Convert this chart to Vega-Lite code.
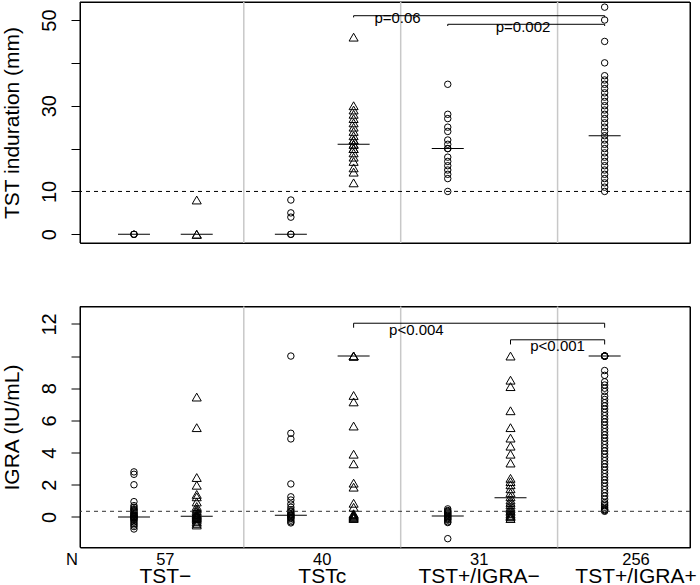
{
  "$schema": "https://vega.github.io/schema/vega-lite/v6.json",
  "padding": {"left": 0, "top": 0, "right": 0, "bottom": 0},
  "background": "white",
  "spacing": 59.5,
  "config": {
    "font": "Liberation Sans",
    "view": {"stroke": "#000", "strokeWidth": 1},
    "axis": {"grid": false, "domain": false, "tickColor": "#000", "tickSize": 9, "labelColor": "#000", "titleColor": "#000", "labelFont": "Liberation Sans", "titleFont": "Liberation Sans", "titleFontWeight": "normal", "labelFontSize": 20, "titleFontSize": 21}
  },
  "datasets": {
    "topO": [
      {"x": 1, "v": 0}, {"x": 1, "v": 0}, {"x": 1, "v": 0},
      {"x": 3.5, "v": 0}, {"x": 3.5, "v": 0}, {"x": 3.5, "v": 4}, {"x": 3.5, "v": 5}, {"x": 3.5, "v": 8},
      {"x": 6, "v": 10}, {"x": 6, "v": 13}, {"x": 6, "v": 14}, {"x": 6, "v": 15}, {"x": 6, "v": 16}, {"x": 6, "v": 17}, {"x": 6, "v": 18}, {"x": 6, "v": 20}, {"x": 6, "v": 20}, {"x": 6, "v": 21}, {"x": 6, "v": 22}, {"x": 6, "v": 24}, {"x": 6, "v": 25}, {"x": 6, "v": 27}, {"x": 6, "v": 28}, {"x": 6, "v": 35},
      {"x": 8.5, "v": 10}, {"x": 8.5, "v": 11}, {"x": 8.5, "v": 12}, {"x": 8.5, "v": 13}, {"x": 8.5, "v": 14}, {"x": 8.5, "v": 15}, {"x": 8.5, "v": 16}, {"x": 8.5, "v": 17}, {"x": 8.5, "v": 18}, {"x": 8.5, "v": 19}, {"x": 8.5, "v": 20}, {"x": 8.5, "v": 21}, {"x": 8.5, "v": 22}, {"x": 8.5, "v": 23}, {"x": 8.5, "v": 24}, {"x": 8.5, "v": 25}, {"x": 8.5, "v": 26}, {"x": 8.5, "v": 27}, {"x": 8.5, "v": 28}, {"x": 8.5, "v": 29}, {"x": 8.5, "v": 30}, {"x": 8.5, "v": 31}, {"x": 8.5, "v": 32}, {"x": 8.5, "v": 33}, {"x": 8.5, "v": 34}, {"x": 8.5, "v": 35}, {"x": 8.5, "v": 36}, {"x": 8.5, "v": 37}, {"x": 8.5, "v": 40}, {"x": 8.5, "v": 45}, {"x": 8.5, "v": 50}, {"x": 8.5, "v": 53}
    ],
    "topT": [
      {"x": 2, "v": 0}, {"x": 2, "v": 0}, {"x": 2, "v": 8},
      {"x": 4.5, "v": 12}, {"x": 4.5, "v": 14.5}, {"x": 4.5, "v": 15.5}, {"x": 4.5, "v": 17}, {"x": 4.5, "v": 18}, {"x": 4.5, "v": 19}, {"x": 4.5, "v": 20}, {"x": 4.5, "v": 20}, {"x": 4.5, "v": 21}, {"x": 4.5, "v": 21}, {"x": 4.5, "v": 22}, {"x": 4.5, "v": 22}, {"x": 4.5, "v": 23}, {"x": 4.5, "v": 24}, {"x": 4.5, "v": 25}, {"x": 4.5, "v": 26}, {"x": 4.5, "v": 27}, {"x": 4.5, "v": 28}, {"x": 4.5, "v": 29}, {"x": 4.5, "v": 30}, {"x": 4.5, "v": 46}
    ],
    "topMed": [
      {"x": 1, "v": 0}, {"x": 2, "v": 0}, {"x": 3.5, "v": 0}, {"x": 4.5, "v": 21}, {"x": 6, "v": 20}, {"x": 8.5, "v": 23}
    ],
    "topBr": [
      {"b": "a", "o": 1, "x": 4.5, "v": 50.6}, {"b": "a", "o": 2, "x": 4.5, "v": 51}, {"b": "a", "o": 3, "x": 8.5, "v": 51}, {"b": "a", "o": 4, "x": 8.5, "v": 50.6},
      {"b": "b", "o": 1, "x": 6, "v": 48.6}, {"b": "b", "o": 2, "x": 6, "v": 49}, {"b": "b", "o": 3, "x": 8.5, "v": 49}, {"b": "b", "o": 4, "x": 8.5, "v": 48.6}
    ],
    "topP": [
      {"x": 5.2, "v": 49.4, "t": "p=0.06"}, {"x": 7.2, "v": 47.3, "t": "p=0.002"}
    ],
    "botO": [
      {"x": 1, "v": 2.8}, {"x": 1, "v": 2.65}, {"x": 1, "v": 2.0}, {"x": 1, "v": 0.95}, {"x": 1, "v": 0.7}, {"x": 1, "v": 0.6}, {"x": 1, "v": 0.5}, {"x": 1, "v": 0.45}, {"x": 1, "v": 0.4}, {"x": 1, "v": 0.3}, {"x": 1, "v": 0.25}, {"x": 1, "v": 0.2}, {"x": 1, "v": 0.15}, {"x": 1, "v": 0.1}, {"x": 1, "v": 0.05}, {"x": 1, "v": 0.02}, {"x": 1, "v": 0}, {"x": 1, "v": 0}, {"x": 1, "v": -0.05}, {"x": 1, "v": -0.1}, {"x": 1, "v": -0.15}, {"x": 1, "v": -0.2}, {"x": 1, "v": -0.3}, {"x": 1, "v": -0.4}, {"x": 1, "v": -0.5}, {"x": 1, "v": -0.6}, {"x": 1, "v": -0.75},
      {"x": 3.5, "v": 10}, {"x": 3.5, "v": 5.2}, {"x": 3.5, "v": 4.85}, {"x": 3.5, "v": 2.05}, {"x": 3.5, "v": 1.25}, {"x": 3.5, "v": 1.05}, {"x": 3.5, "v": 0.8}, {"x": 3.5, "v": 0.6}, {"x": 3.5, "v": 0.45}, {"x": 3.5, "v": 0.35}, {"x": 3.5, "v": 0.3}, {"x": 3.5, "v": 0.2}, {"x": 3.5, "v": 0.15}, {"x": 3.5, "v": 0.1}, {"x": 3.5, "v": 0.05}, {"x": 3.5, "v": 0}, {"x": 3.5, "v": -0.05}, {"x": 3.5, "v": -0.1}, {"x": 3.5, "v": -0.2}, {"x": 3.5, "v": -0.3}, {"x": 3.5, "v": -0.37},
      {"x": 6, "v": 0.5}, {"x": 6, "v": 0.4}, {"x": 6, "v": 0.35}, {"x": 6, "v": 0.3}, {"x": 6, "v": 0.25}, {"x": 6, "v": 0.2}, {"x": 6, "v": 0.15}, {"x": 6, "v": 0.1}, {"x": 6, "v": 0.05}, {"x": 6, "v": 0}, {"x": 6, "v": -0.05}, {"x": 6, "v": -0.1}, {"x": 6, "v": -0.15}, {"x": 6, "v": -0.2}, {"x": 6, "v": -0.3}, {"x": 6, "v": -0.35}, {"x": 6, "v": -1.35},
      {"x": 8.5, "v": 10}, {"x": 8.5, "v": 10}, {"x": 8.5, "v": 10}, {"x": 8.5, "v": 10}, {"x": 8.5, "v": 10}, {"x": 8.5, "v": 10}, {"x": 8.5, "v": 9.1}, {"x": 8.5, "v": 8.8}, {"x": 8.5, "v": 8.4}, {"x": 8.5, "v": 8.2}, {"x": 8.5, "v": 8.0}, {"x": 8.5, "v": 7.8}, {"x": 8.5, "v": 7.5}, {"x": 8.5, "v": 7.3}, {"x": 8.5, "v": 7.1}, {"x": 8.5, "v": 6.9}, {"x": 8.5, "v": 6.7}, {"x": 8.5, "v": 6.5}, {"x": 8.5, "v": 6.3}, {"x": 8.5, "v": 6.1}, {"x": 8.5, "v": 5.9}, {"x": 8.5, "v": 5.7}, {"x": 8.5, "v": 5.5}, {"x": 8.5, "v": 5.3}, {"x": 8.5, "v": 5.1}, {"x": 8.5, "v": 4.9}, {"x": 8.5, "v": 4.7}, {"x": 8.5, "v": 4.5}, {"x": 8.5, "v": 4.3}, {"x": 8.5, "v": 4.1}, {"x": 8.5, "v": 3.9}, {"x": 8.5, "v": 3.7}, {"x": 8.5, "v": 3.5}, {"x": 8.5, "v": 3.3}, {"x": 8.5, "v": 3.1}, {"x": 8.5, "v": 2.9}, {"x": 8.5, "v": 2.7}, {"x": 8.5, "v": 2.5}, {"x": 8.5, "v": 2.3}, {"x": 8.5, "v": 2.1}, {"x": 8.5, "v": 1.9}, {"x": 8.5, "v": 1.7}, {"x": 8.5, "v": 1.5}, {"x": 8.5, "v": 1.3}, {"x": 8.5, "v": 1.1}, {"x": 8.5, "v": 0.9}, {"x": 8.5, "v": 0.8}, {"x": 8.5, "v": 0.7}, {"x": 8.5, "v": 0.6}, {"x": 8.5, "v": 0.5}, {"x": 8.5, "v": 0.45}, {"x": 8.5, "v": 0.4}, {"x": 8.5, "v": 0.35}
    ],
    "botT": [
      {"x": 2, "v": 7.45}, {"x": 2, "v": 5.55}, {"x": 2, "v": 2.45}, {"x": 2, "v": 1.97}, {"x": 2, "v": 1.4}, {"x": 2, "v": 1.25}, {"x": 2, "v": 0.93}, {"x": 2, "v": 0.65}, {"x": 2, "v": 0.5}, {"x": 2, "v": 0.4}, {"x": 2, "v": 0.3}, {"x": 2, "v": 0.2}, {"x": 2, "v": 0.15}, {"x": 2, "v": 0.1}, {"x": 2, "v": 0.05}, {"x": 2, "v": 0}, {"x": 2, "v": -0.05}, {"x": 2, "v": -0.1}, {"x": 2, "v": -0.2}, {"x": 2, "v": -0.3}, {"x": 2, "v": -0.4}, {"x": 2, "v": -0.5},
      {"x": 4.5, "v": 10}, {"x": 4.5, "v": 10}, {"x": 4.5, "v": 10}, {"x": 4.5, "v": 7.55}, {"x": 4.5, "v": 7.15}, {"x": 4.5, "v": 5.65}, {"x": 4.5, "v": 3.9}, {"x": 4.5, "v": 3.3}, {"x": 4.5, "v": 2.1}, {"x": 4.5, "v": 1.85}, {"x": 4.5, "v": 0.85}, {"x": 4.5, "v": 0.6}, {"x": 4.5, "v": 0.2}, {"x": 4.5, "v": 0.15}, {"x": 4.5, "v": 0.1}, {"x": 4.5, "v": 0.05}, {"x": 4.5, "v": 0}, {"x": 4.5, "v": -0.05}, {"x": 4.5, "v": -0.1},
      {"x": 7, "v": 10}, {"x": 7, "v": 8.5}, {"x": 7, "v": 8.1}, {"x": 7, "v": 6.6}, {"x": 7, "v": 5.55}, {"x": 7, "v": 4.9}, {"x": 7, "v": 4.4}, {"x": 7, "v": 3.9}, {"x": 7, "v": 3.35}, {"x": 7, "v": 2.4}, {"x": 7, "v": 2.2}, {"x": 7, "v": 2.0}, {"x": 7, "v": 1.75}, {"x": 7, "v": 1.5}, {"x": 7, "v": 1.25}, {"x": 7, "v": 1.05}, {"x": 7, "v": 0.9}, {"x": 7, "v": 0.75}, {"x": 7, "v": 0.6}, {"x": 7, "v": 0.5}, {"x": 7, "v": 0.4}, {"x": 7, "v": 0.3}, {"x": 7, "v": 0.2}, {"x": 7, "v": 0.1}, {"x": 7, "v": 0.05}, {"x": 7, "v": 0}, {"x": 7, "v": -0.1}
    ],
    "botMed": [
      {"x": 1, "v": 0}, {"x": 2, "v": 0.04}, {"x": 3.5, "v": 0.1}, {"x": 4.5, "v": 10}, {"x": 6, "v": 0.06}, {"x": 7, "v": 1.2}, {"x": 8.5, "v": 10}
    ],
    "botBr": [
      {"b": "c", "o": 1, "x": 4.5, "v": 11.76}, {"b": "c", "o": 2, "x": 4.5, "v": 12.04}, {"b": "c", "o": 3, "x": 8.5, "v": 12.04}, {"b": "c", "o": 4, "x": 8.5, "v": 11.76},
      {"b": "d", "o": 1, "x": 7, "v": 10.72}, {"b": "d", "o": 2, "x": 7, "v": 11.01}, {"b": "d", "o": 3, "x": 8.5, "v": 11.01}, {"b": "d", "o": 4, "x": 8.5, "v": 10.72}
    ],
    "botP": [
      {"x": 5.5, "v": 11.28, "t": "p<0.004"}, {"x": 7.75, "v": 10.29, "t": "p<0.001"}
    ],
    "seps": [{"x": 2.75}, {"x": 5.25}, {"x": 7.75}],
    "nrow": [
      {"x": 0.01, "t": "N"}, {"x": 1.5, "t": "57"}, {"x": 4, "t": "40"}, {"x": 6.5, "t": "31"}, {"x": 9, "t": "256"}
    ],
    "cats": [
      {"x": 1.5, "t": "TST−"}, {"x": 4, "t": "TSTc"}, {"x": 6.5, "t": "TST+/IGRA−"}, {"x": 9, "t": "TST+/IGRA+"}
    ]
  },
  "vconcat": [
    {
      "width": 610,
      "height": 241,
      "layer": [
        {
          "data": {"name": "topO"},
          "mark": {"type": "point", "shape": "circle", "filled": false, "stroke": "#000", "strokeWidth": 1, "opacity": 1, "size": 42},
          "encoding": {
            "x": {"field": "x", "type": "quantitative", "scale": {"domain": [0.14, 9.86], "nice": false, "zero": false}, "axis": null},
            "y": {"field": "v", "type": "quantitative", "scale": {"domain": [-2.03, 54.2], "nice": false, "zero": false},
              "axis": {"values": [0, 10, 20, 30, 40, 50], "labelExpr": "datum.value == 20 || datum.value == 40 ? '' : datum.label", "title": "TST induration (mm)", "labelAngle": -90, "labelAlign": "center", "labelBaseline": "alphabetic", "labelPadding": 16, "tickSize": 9, "titleAngle": -90, "titleX": -61.7, "titleY": 120.5, "titleBaseline": "alphabetic", "titleAlign": "center", "labelOverlap": false}}
          }
        },
        {
          "data": {"values": [{"f": 1}]},
          "mark": {"type": "rect", "filled": false, "stroke": "#000", "strokeWidth": 1},
          "encoding": {
            "x": {"datum": 0.14, "type": "quantitative", "scale": {"domain": [0.14, 9.86], "nice": false, "zero": false}, "axis": null},
            "x2": {"datum": 9.86},
            "y": {"datum": -2.03, "type": "quantitative", "scale": {"domain": [-2.03, 54.2], "nice": false, "zero": false}},
            "y2": {"datum": 54.2}
          }
        },
        {
          "data": {"name": "seps"},
          "mark": {"type": "rule", "color": "#c8c8c8", "strokeWidth": 1.5},
          "encoding": {
            "x": {"field": "x", "type": "quantitative", "scale": {"domain": [0.14, 9.86], "nice": false, "zero": false}, "axis": null}
          }
        },
        {
          "data": {"values": [{"v": 10}]},
          "mark": {"type": "rule", "color": "#000", "strokeWidth": 1, "strokeDash": [4, 4]},
          "encoding": {
            "y": {"field": "v", "type": "quantitative", "scale": {"domain": [-2.03, 54.2], "nice": false, "zero": false}}
          }
        },
        {
          "data": {"name": "topT"},
          "mark": {"type": "point", "shape": "triangle-up", "filled": false, "stroke": "#000", "strokeWidth": 1, "opacity": 1, "size": 82},
          "encoding": {
            "x": {"field": "x", "type": "quantitative", "scale": {"domain": [0.14, 9.86], "nice": false, "zero": false}, "axis": null},
            "y": {"field": "v", "type": "quantitative", "scale": {"domain": [-2.03, 54.2], "nice": false, "zero": false}}
          }
        },
        {
          "data": {"name": "topMed"},
          "mark": {"type": "tick", "orient": "horizontal", "size": 32, "thickness": 1, "color": "#000", "opacity": 1},
          "encoding": {
            "x": {"field": "x", "type": "quantitative", "scale": {"domain": [0.14, 9.86], "nice": false, "zero": false}, "axis": null},
            "y": {"field": "v", "type": "quantitative", "scale": {"domain": [-2.03, 54.2], "nice": false, "zero": false}}
          }
        },
        {
          "data": {"name": "topBr"},
          "mark": {"type": "line", "color": "#000", "strokeWidth": 1},
          "encoding": {
            "x": {"field": "x", "type": "quantitative", "scale": {"domain": [0.14, 9.86], "nice": false, "zero": false}, "axis": null},
            "y": {"field": "v", "type": "quantitative", "scale": {"domain": [-2.03, 54.2], "nice": false, "zero": false}},
            "detail": {"field": "b", "type": "nominal"},
            "order": {"field": "o", "type": "quantitative"}
          }
        },
        {
          "data": {"name": "topP"},
          "mark": {"type": "text", "fontSize": 15, "color": "#000", "align": "center", "baseline": "alphabetic", "font": "Liberation Sans"},
          "encoding": {
            "x": {"field": "x", "type": "quantitative", "scale": {"domain": [0.14, 9.86], "nice": false, "zero": false}, "axis": null},
            "y": {"field": "v", "type": "quantitative", "scale": {"domain": [-2.03, 54.2], "nice": false, "zero": false}},
            "text": {"field": "t", "type": "nominal"}
          }
        }
      ]
    },
    {
      "width": 610,
      "height": 241,
      "layer": [
        {
          "data": {"name": "botO"},
          "mark": {"type": "point", "shape": "circle", "filled": false, "stroke": "#000", "strokeWidth": 1, "opacity": 1, "size": 42},
          "encoding": {
            "x": {"field": "x", "type": "quantitative", "scale": {"domain": [0.14, 9.86], "nice": false, "zero": false}, "axis": null},
            "y": {"field": "v", "type": "quantitative", "scale": {"domain": [-1.9, 13.08], "nice": false, "zero": false},
              "axis": {"values": [0, 2, 4, 6, 8, 10, 12], "labelExpr": "datum.value == 10 ? '' : datum.label", "title": "IGRA (IU/mL)", "labelAngle": -90, "labelAlign": "center", "labelBaseline": "alphabetic", "labelPadding": 16, "tickSize": 9, "titleAngle": -90, "titleX": -61.7, "titleY": 120.5, "titleBaseline": "alphabetic", "titleAlign": "center", "labelOverlap": false}}
          }
        },
        {
          "data": {"values": [{"f": 1}]},
          "mark": {"type": "rect", "filled": false, "stroke": "#000", "strokeWidth": 1},
          "encoding": {
            "x": {"datum": 0.14, "type": "quantitative", "scale": {"domain": [0.14, 9.86], "nice": false, "zero": false}, "axis": null},
            "x2": {"datum": 9.86},
            "y": {"datum": -1.9, "type": "quantitative", "scale": {"domain": [-1.9, 13.08], "nice": false, "zero": false}},
            "y2": {"datum": 13.08}
          }
        },
        {
          "data": {"name": "seps"},
          "mark": {"type": "rule", "color": "#c8c8c8", "strokeWidth": 1.5},
          "encoding": {
            "x": {"field": "x", "type": "quantitative", "scale": {"domain": [0.14, 9.86], "nice": false, "zero": false}, "axis": null}
          }
        },
        {
          "data": {"values": [{"v": 0.35}]},
          "mark": {"type": "rule", "color": "#333", "strokeWidth": 1, "strokeDash": [4, 4]},
          "encoding": {
            "y": {"field": "v", "type": "quantitative", "scale": {"domain": [-1.9, 13.08], "nice": false, "zero": false}}
          }
        },
        {
          "data": {"name": "botT"},
          "mark": {"type": "point", "shape": "triangle-up", "filled": false, "stroke": "#000", "strokeWidth": 1, "opacity": 1, "size": 82},
          "encoding": {
            "x": {"field": "x", "type": "quantitative", "scale": {"domain": [0.14, 9.86], "nice": false, "zero": false}, "axis": null},
            "y": {"field": "v", "type": "quantitative", "scale": {"domain": [-1.9, 13.08], "nice": false, "zero": false}}
          }
        },
        {
          "data": {"name": "botMed"},
          "mark": {"type": "tick", "orient": "horizontal", "size": 32, "thickness": 1, "color": "#000", "opacity": 1},
          "encoding": {
            "x": {"field": "x", "type": "quantitative", "scale": {"domain": [0.14, 9.86], "nice": false, "zero": false}, "axis": null},
            "y": {"field": "v", "type": "quantitative", "scale": {"domain": [-1.9, 13.08], "nice": false, "zero": false}}
          }
        },
        {
          "data": {"name": "botBr"},
          "mark": {"type": "line", "color": "#000", "strokeWidth": 1},
          "encoding": {
            "x": {"field": "x", "type": "quantitative", "scale": {"domain": [0.14, 9.86], "nice": false, "zero": false}, "axis": null},
            "y": {"field": "v", "type": "quantitative", "scale": {"domain": [-1.9, 13.08], "nice": false, "zero": false}},
            "detail": {"field": "b", "type": "nominal"},
            "order": {"field": "o", "type": "quantitative"}
          }
        },
        {
          "data": {"name": "botP"},
          "mark": {"type": "text", "fontSize": 15, "color": "#000", "align": "center", "baseline": "alphabetic", "font": "Liberation Sans"},
          "encoding": {
            "x": {"field": "x", "type": "quantitative", "scale": {"domain": [0.14, 9.86], "nice": false, "zero": false}, "axis": null},
            "y": {"field": "v", "type": "quantitative", "scale": {"domain": [-1.9, 13.08], "nice": false, "zero": false}},
            "text": {"field": "t", "type": "nominal"}
          }
        },
        {
          "data": {"name": "nrow"},
          "mark": {"type": "text", "fontSize": 16.5, "color": "#000", "align": "center", "baseline": "alphabetic", "font": "Liberation Sans"},
          "encoding": {
            "x": {"field": "x", "type": "quantitative", "scale": {"domain": [0.14, 9.86], "nice": false, "zero": false}, "axis": null},
            "y": {"datum": -3.0, "type": "quantitative", "scale": {"domain": [-1.9, 13.08], "nice": false, "zero": false}},
            "text": {"field": "t", "type": "nominal"}
          }
        },
        {
          "data": {"name": "cats"},
          "mark": {"type": "text", "fontSize": 21, "color": "#000", "align": "center", "baseline": "alphabetic", "font": "Liberation Sans"},
          "encoding": {
            "x": {"field": "x", "type": "quantitative", "scale": {"domain": [0.14, 9.86], "nice": false, "zero": false}, "axis": null},
            "y": {"datum": -4.12, "type": "quantitative", "scale": {"domain": [-1.9, 13.08], "nice": false, "zero": false}},
            "text": {"field": "t", "type": "nominal"}
          }
        }
      ]
    }
  ]
}
